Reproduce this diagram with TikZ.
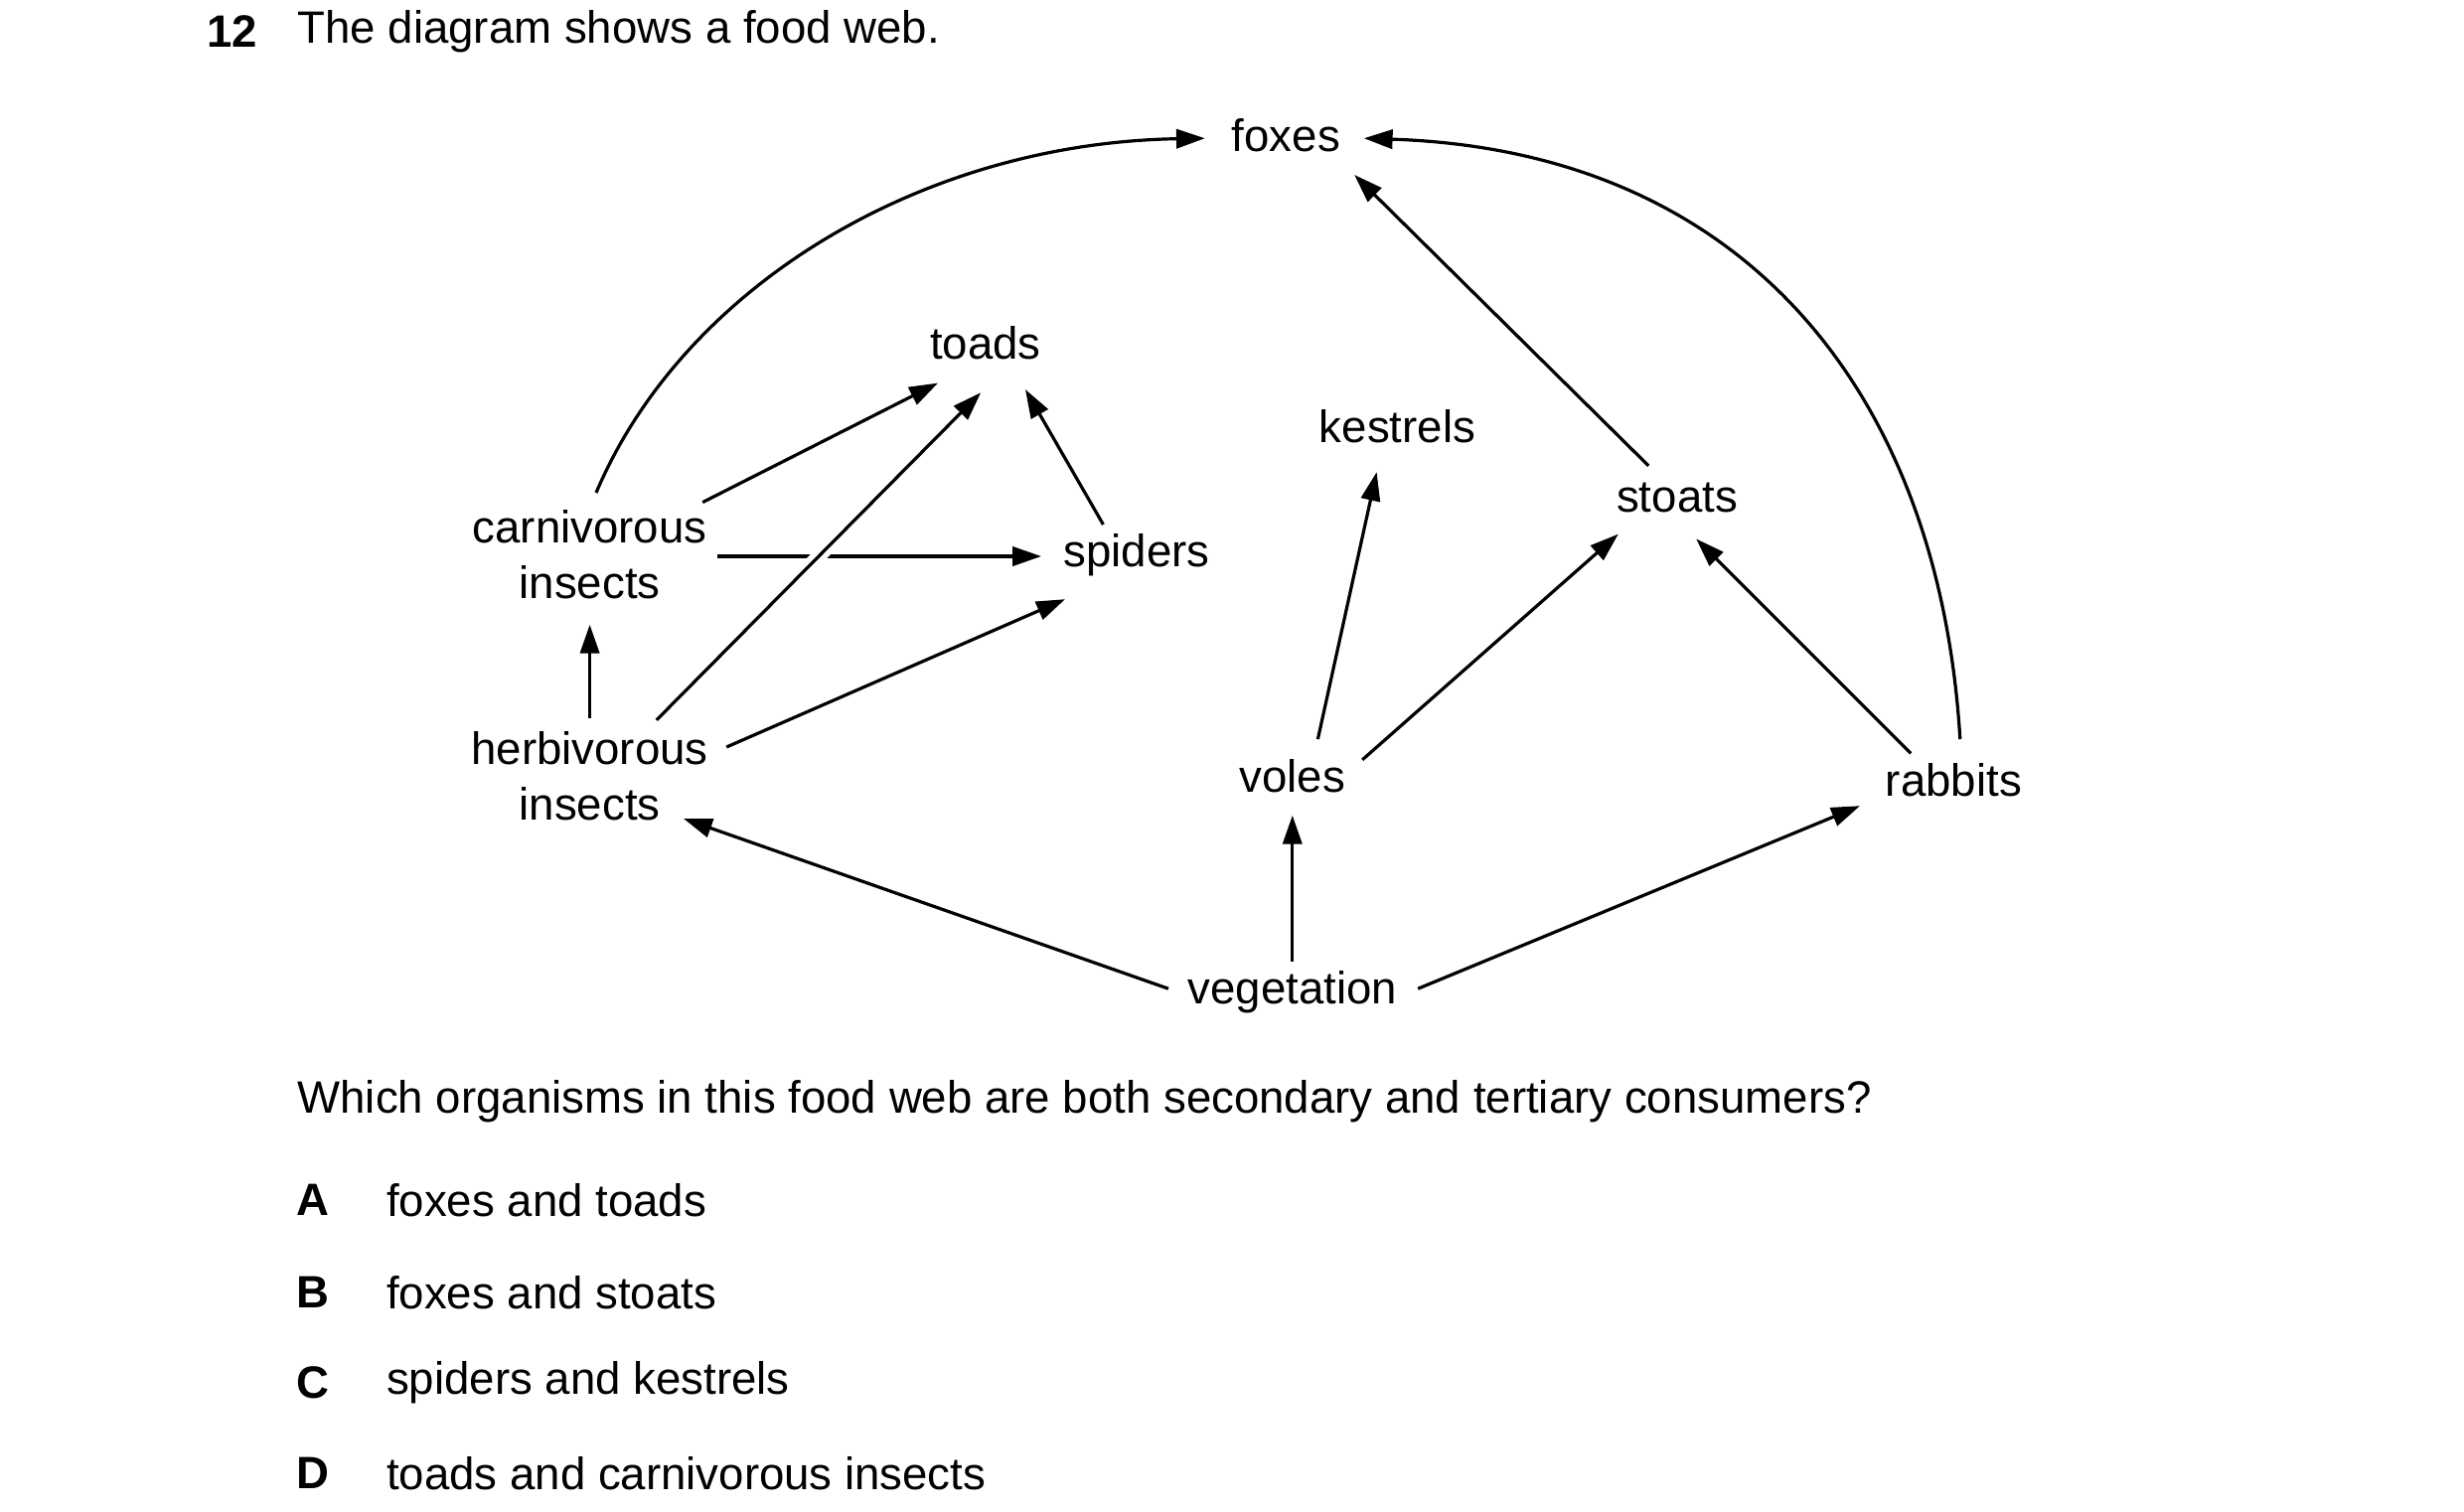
\documentclass[tikz,border=0pt]{standalone}
\usepackage{fontspec}
\setmainfont{Liberation Sans}
\usetikzlibrary{arrows.meta}
\begin{document}
\begin{tikzpicture}[x=1pt,y=-1pt,
  lbl/.style={font=\fontsize{28.5}{35}\selectfont,align=center,inner sep=0},
  txt/.style={font=\fontsize{28.5}{35}\selectfont,anchor=west,inner sep=0},
  arr/.style={line width=2pt,-{Triangle[length=18,width=12]}}]
\useasboundingbox (0,0) rectangle (1550,951);
\node[txt,font=\fontsize{28.5}{35}\selectfont\bfseries] (num) at (130,20) {12};
\node[txt] (title) at (187,20) {The diagram shows a food web.};
\node[lbl] (foxes) at (809,85) {foxes};
\node[lbl] (toads) at (620,216) {toads};
\node[lbl] (kestrels) at (879,268) {kestrels};
\node[lbl] (stoats) at (1055,313) {stoats};
\node[lbl] (carn) at (371,349) {carnivorous\\insects};
\node[lbl] (spiders) at (715,349) {spiders};
\node[lbl] (herb) at (371,488) {herbivorous\\insects};
\node[lbl] (voles) at (813,488) {voles};
\node[lbl] (rabbits) at (1229,491) {rabbits};
\node[lbl] (veg) at (813,624) {vegetation};
\node[txt] (q) at (187,693) {Which organisms in this food web are both secondary and tertiary consumers?};
\foreach \l/\t/\y in {A/foxes and toads/755,B/foxes and stoats/813,C/spiders and kestrels/870,D/toads and carnivorous insects/927}{
  \node[lbl,font=\fontsize{28.5}{35}\selectfont\bfseries] (opt\l) at (197,\y) {\l};
  \node[txt] (opttxt\l) at (243,\y) {\t};
}
% endpoints
\coordinate (c1) at (375,310); \coordinate (f1) at (758,87);
\coordinate (r1) at (1233,465); \coordinate (f2) at (858,87);
\coordinate (ct) at (442,316); \coordinate (t1) at (590,241);
\coordinate (ht) at (413,453); \coordinate (t2) at (617,247);
\coordinate (st) at (694,330); \coordinate (t3) at (645,245);
\coordinate (cs) at (451,350); \coordinate (s1) at (655,350);
\coordinate (hs) at (457,470); \coordinate (s2) at (670,377);
\coordinate (hc) at (371,452); \coordinate (c2) at (371,393);
\coordinate (vh) at (735,622); \coordinate (h1) at (430,515);
\coordinate (vv) at (813,605); \coordinate (v1) at (813,513);
\coordinate (vr) at (892,622); \coordinate (r2) at (1170,507);
\coordinate (vk) at (829,465); \coordinate (k1) at (866,297);
\coordinate (vs) at (857,478); \coordinate (s3) at (1018,336);
\coordinate (rs) at (1202,474); \coordinate (s4) at (1067,339);
\coordinate (sf) at (1037,293); \coordinate (f3) at (852,110);
\draw[arr] (c1) .. controls (430,180) and (580,90) .. (f1);
\draw[arr] (r1) .. controls (1220,250) and (1100,95) .. (f2);
\draw[arr] (ct) -- (t1);
\draw[arr] (cs) -- (s1);
\draw[white,line width=9pt,shorten <=40pt,shorten >=60pt] (ht) -- (t2);
\draw[arr] (ht) -- (t2);
\draw[arr] (st) -- (t3);
\draw[arr] (hs) -- (s2);
\draw[arr] (hc) -- (c2);
\draw[arr] (vh) -- (h1);
\draw[arr] (vv) -- (v1);
\draw[arr] (vr) -- (r2);
\draw[arr] (vk) -- (k1);
\draw[arr] (vs) -- (s3);
\draw[arr] (rs) -- (s4);
\draw[arr] (sf) -- (f3);
\end{tikzpicture}
\end{document}
